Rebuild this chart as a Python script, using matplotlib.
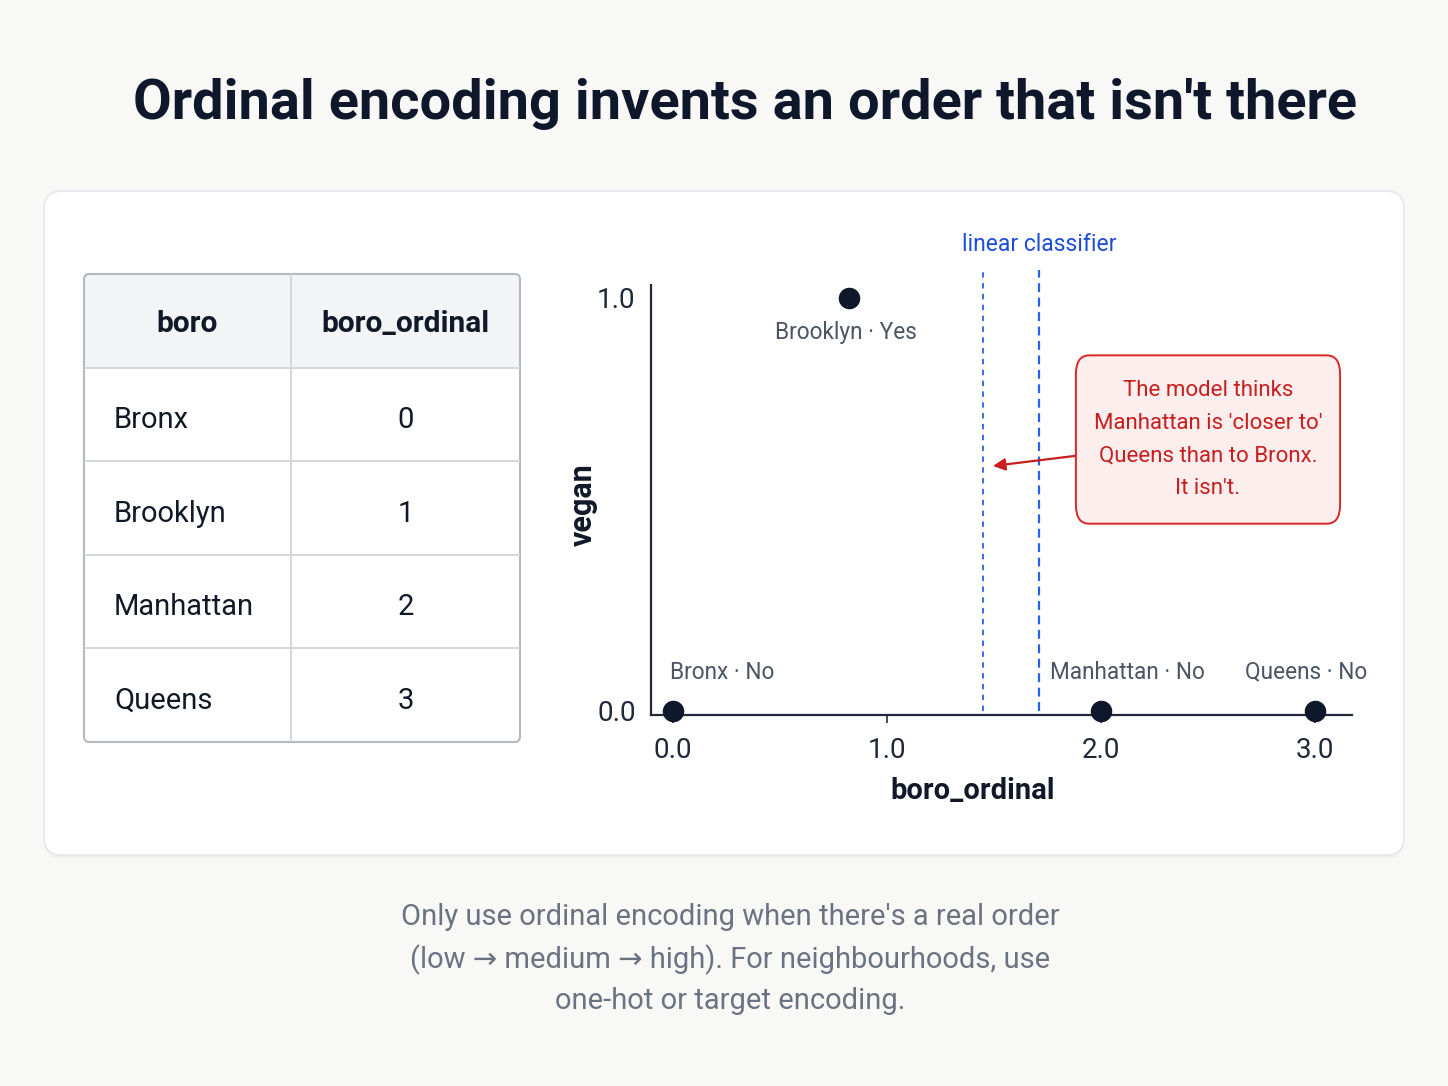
import matplotlib
matplotlib.use("Agg")
import matplotlib.pyplot as plt
from matplotlib.patches import FancyBboxPatch, Rectangle
from matplotlib.transforms import IdentityTransform

plt.rcParams['font.family'] = ['Roboto', 'DejaVu Sans']

# table data
header = ['boro', 'boro_ordinal']
boros = ['Bronx', 'Brooklyn', 'Manhattan', 'Queens']
boro_ordinal = [0, 1, 2, 3]

# scatter data (as drawn)
point_x = [0.0, 0.82, 2.0, 3.0]
vegan = [0, 1, 0, 0]
point_labels = ['Bronx · No', 'Brooklyn · Yes', 'Manhattan · No', 'Queens · No']
classifier_x = [1.45, 1.71]
x_ticks = [0.0, 1.0, 2.0, 3.0]
y_ticks = [0.0, 1.0]

title = "Ordinal encoding invents an order that isn't there"
note = "The model thinks\nManhattan is 'closer to'\nQueens than to Bronx.\nIt isn't."
footer = ("Only use ordinal encoding when there's a real order\n"
          "(low \u2192 medium \u2192 high). For neighbourhoods, use\n"
          "one-hot or target encoding.")

W, H = 1448, 1086
fig = plt.figure(figsize=(W / 100, H / 100), dpi=100)
fig.patch.set_facecolor('#f8f8f7')


def box(x0, y0, x1, y1):
    return [x0 / W, 1 - y1 / H, (x1 - x0) / W, (y1 - y0) / H]


# card with soft shadow
for off, col, a in [(3, '#000000', 0.04), (0, '#ffffff', 1.0)]:
    card = FancyBboxPatch((44, H - 855 - off), 1360, 664, boxstyle='round,pad=0,rounding_size=18',
                          transform=IdentityTransform(), fc=col, alpha=a,
                          ec='#e5e7eb' if off == 0 else 'none', lw=1.2, zorder=-5)
    fig.patches.append(card)

fig.text(745 / W, 1 - 104 / H, title, ha='center', va='center', fontsize=40.3,
         weight='bold', color='#0f172a')

fig.text(730 / W, 1 - 959 / H, footer, ha='center', va='center', fontsize=21,
         color='#6b7280', linespacing=1.55)

# ---- table ----
ax_t = fig.add_axes(box(84, 274, 520, 742))
ax_t.set_xlim(0, 1)
nrows = len(boros) + 1
ax_t.set_ylim(nrows, 0)
ax_t.axis('off')
split = 0.475
ax_t.add_patch(Rectangle((0, 0), 1, 1, fc='#f3f4f6', ec='none'))
for r in range(1, nrows):
    ax_t.plot([0, 1], [r, r], color='#d1d5db', lw=1.3)
ax_t.plot([split, split], [0, nrows], color='#d1d5db', lw=1.3)
ax_t.add_patch(FancyBboxPatch((0, 0), 1, nrows, boxstyle='round,pad=0,rounding_size=0.012',
                              fc='none', ec='#b4b8bf', lw=1.5, clip_on=False,
                              mutation_aspect=nrows))

ax_t.text(split / 2, 0.53, header[0], ha='center', va='center', fontsize=21.5,
          weight='bold', color='#111827')
ax_t.text((1 + split) / 2, 0.53, header[1], ha='center', va='center', fontsize=21.5,
          weight='bold', color='#111827')
for i, (b, o) in enumerate(zip(boros, boro_ordinal)):
    ax_t.text(0.069, i + 1.56, b, ha='left', va='center', fontsize=21, color='#111827')
    ax_t.text((1 + split) / 2, i + 1.56, str(o), ha='center', va='center', fontsize=21,
              color='#111827')

# ---- scatter ----
ax = fig.add_axes(box(651, 285, 1352, 715))
ax.patch.set_alpha(0)
ax.set_xlim(-0.103, 3.173)
ax.set_ylim(-0.0097, 1.031)
for s in ['top', 'right']:
    ax.spines[s].set_visible(False)
for s in ['left', 'bottom']:
    ax.spines[s].set_color('#1f2937')
    ax.spines[s].set_linewidth(1.6)

ax.set_xticks(x_ticks)
ax.set_xticklabels([f'{v:.1f}' for v in x_ticks])
ax.set_yticks(y_ticks)
ax.set_yticklabels([f'{v:.1f}' for v in y_ticks])
ax.tick_params(axis='x', length=6, width=1.2, color='#1f2937', pad=10,
               labelsize=20, labelcolor='#1f2937')
ax.tick_params(axis='y', length=0, pad=11, labelsize=20, labelcolor='#1f2937')

ax.scatter(point_x, vegan, s=210, color='#0f172a', zorder=5, clip_on=False)

offsets = [(-2, 28, 'left'), (-1.5, -25, 'center'), (-37, 28, 'left'), (-6.5, 28, 'center')]
for x, y, lab, (dx, dy, ha) in zip(point_x, vegan, point_labels, offsets):
    ax.annotate(lab, (x, y), xytext=(dx, dy), textcoords='offset points', ha=ha,
                va='center', fontsize=16.3, color='#4b5563')

dashes = [(0, (3, 3)), (0, (4, 2.5))]
widths = [1.3, 1.6]
for x, ls, lw in zip(classifier_x, dashes, widths):
    ax.plot([x, x], [0.0, 1.068], ls=ls, color='#2563eb', lw=lw, clip_on=False)
ax.text(classifier_x[1], 1.128, 'linear classifier', ha='center', va='center',
        fontsize=16.5, color='#1d4ed8')

ax.annotate(note, xy=(1.495, 0.593), xytext=(2.5, 0.657), ha='center', va='center',
            fontsize=16, color='#c81e1e', linespacing=1.72,
            bbox=dict(boxstyle='round,pad=0.8,rounding_size=0.6', fc='#fdeeee',
                      ec='#dc2626', lw=1.4, mutation_aspect=1.4),
            arrowprops=dict(arrowstyle='-|>', color='#c81e1e', lw=1.6,
                            mutation_scale=18, shrinkA=0, shrinkB=0))

ax.set_xlabel('boro_ordinal', fontsize=21, weight='bold', color='#111827')
ax.xaxis.set_label_coords((973 - 651) / 701, -(791 - 715) / 430)
ax.xaxis.label.set_va('center')
ax.set_ylabel('vegan', fontsize=22, weight='bold', color='#111827')
ax.yaxis.set_label_coords((583 - 651) / 701, (715 - 505) / 430)
ax.yaxis.label.set_va('center')

fig.savefig('out.png', dpi=100, facecolor=fig.get_facecolor())
